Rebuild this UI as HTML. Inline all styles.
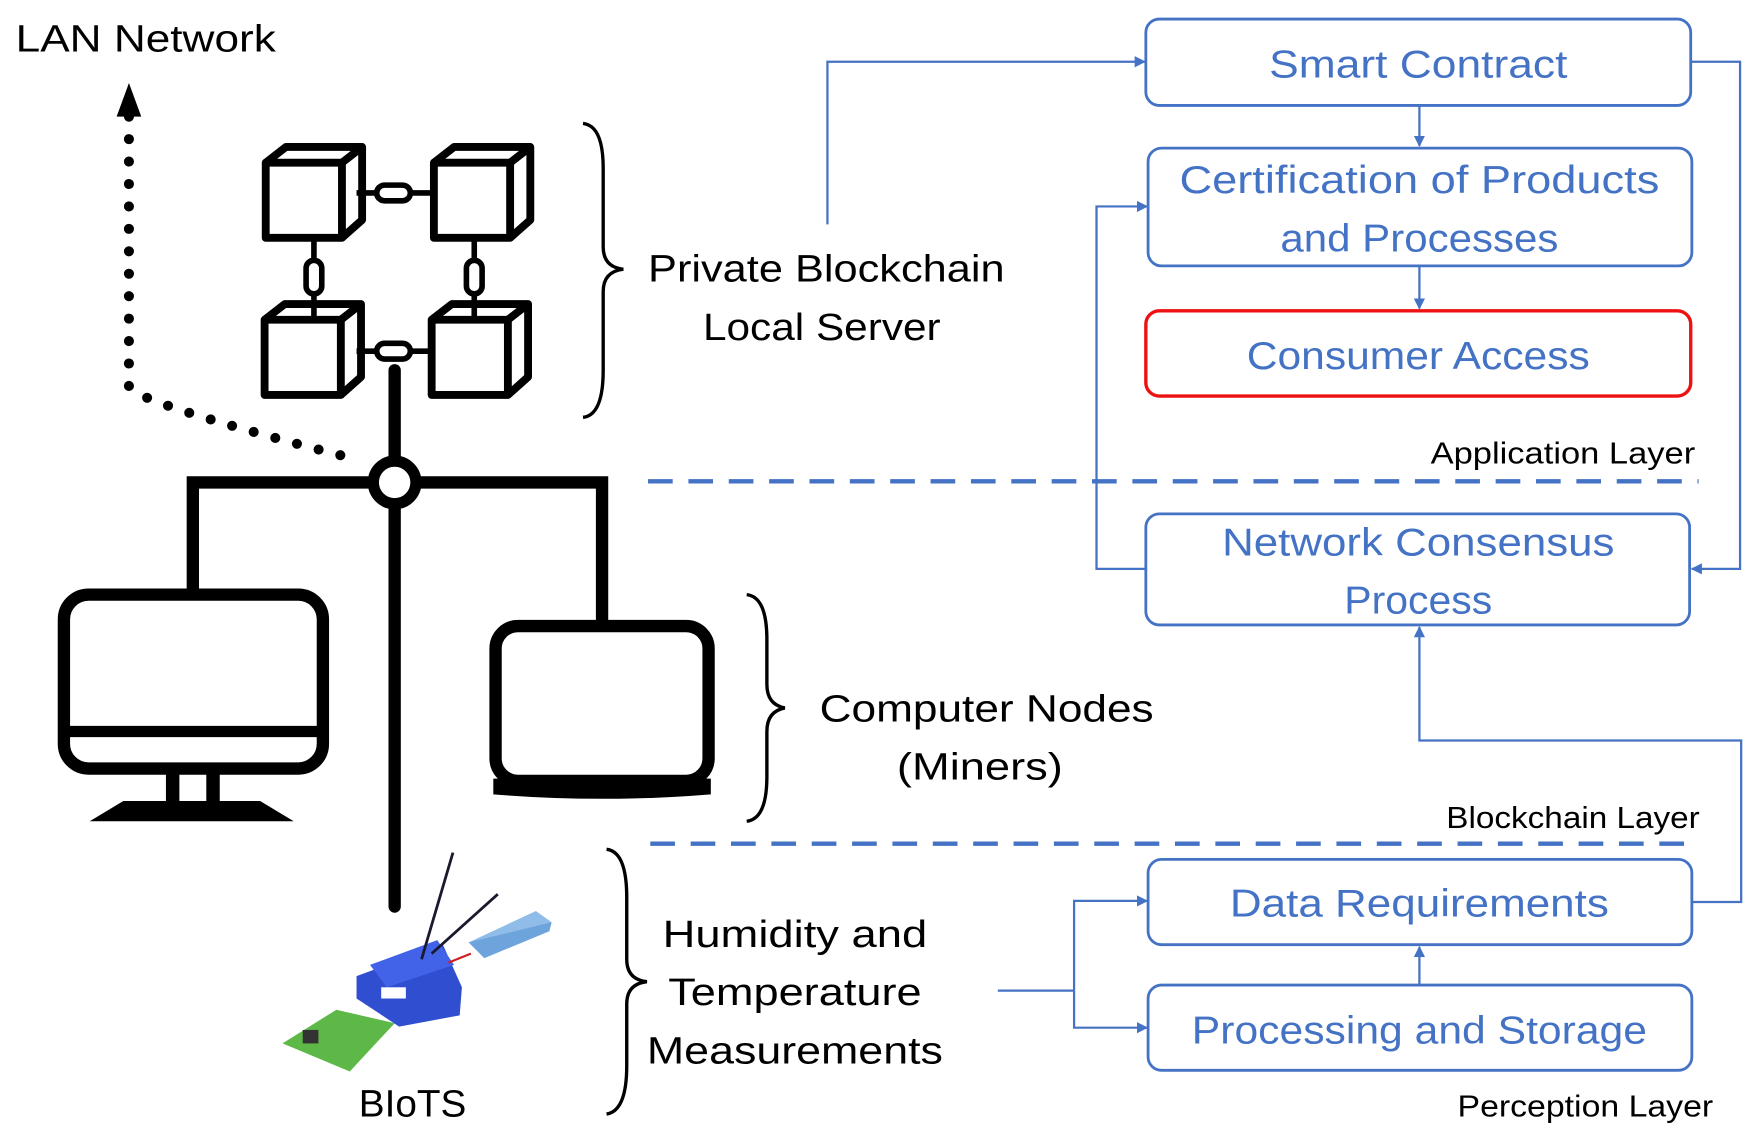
<!DOCTYPE html>
<html><head><meta charset="utf-8"><style>
html,body{margin:0;padding:0;background:#fff;}
svg{display:block;}
text{font-family:"Liberation Sans",sans-serif;}
</style></head><body>
<svg width="1758" height="1141" viewBox="0 0 1568 1017" preserveAspectRatio="none" xmlns="http://www.w3.org/2000/svg">
<defs>
<marker id="ab" markerWidth="10" markerHeight="10" refX="9" refY="5" orient="auto" markerUnits="userSpaceOnUse"><path d="M0,0 L10,5 L0,10 z" fill="#4472C4"/></marker>
</defs>
<rect width="1568" height="1017" fill="#fff"/>
<text x="14" y="46" font-size="34" textLength="232" lengthAdjust="spacingAndGlyphs">LAN Network</text>
<path d="M115,104 L115,345 Q125,360 320,410" fill="none" stroke="#000" stroke-width="9" stroke-linecap="round" stroke-dasharray="0 20"/>
<path d="M104,104 L115,74 L126,104 z" fill="#000"/>
<g fill="none" stroke="#000" stroke-width="7" stroke-linejoin="round">
<g id="cube"><rect x="237" y="145" width="68" height="67"/><path d="M237,145 L255,131 L323,131 L305,145 M323,131 L323,196 L305,212"/></g>
<use href="#cube" x="150" y="0"/>
<use href="#cube" x="-1" y="140"/>
<use href="#cube" x="148" y="140"/>
<g stroke-width="5">
<line x1="318" y1="172" x2="387" y2="172"/>
<rect x="336" y="165" width="30" height="14" rx="7" fill="#fff"/>
<line x1="318" y1="313" x2="386" y2="313"/>
<rect x="336" y="306" width="30" height="14" rx="7" fill="#fff"/>
<line x1="280" y1="212" x2="280" y2="283"/>
<rect x="273" y="232" width="14" height="30" rx="7" fill="#fff"/>
<line x1="423" y1="212" x2="423" y2="283"/>
<rect x="416" y="232" width="14" height="30" rx="7" fill="#fff"/>
</g>
</g>
<g stroke="#000" stroke-width="11" fill="none" stroke-linecap="round">
<line x1="352" y1="330" x2="352" y2="808"/>
<polyline points="172,530 172,430 537,430 537,558" stroke-linecap="butt"/>
</g>
<circle cx="352" cy="430" r="19" fill="#fff" stroke="#000" stroke-width="10"/>
<rect x="57" y="530" width="231" height="155" rx="22" fill="none" stroke="#000" stroke-width="11"/>
<line x1="57" y1="652" x2="288" y2="652" stroke="#000" stroke-width="10"/>
<rect x="148" y="685" width="12" height="32" fill="#000"/><rect x="184" y="685" width="12" height="32" fill="#000"/>
<path d="M110,714 L232,714 L262,732 L80,732 z" fill="#000"/>
<rect x="442" y="558" width="190" height="138" rx="20" fill="none" stroke="#000" stroke-width="11"/>
<path d="M440,694 L634,694 L634,708 Q537,716 440,708 z" fill="#000"/>
<g fill="none" stroke="#000" stroke-width="3">
<path d="M520,110 Q538,112 538,150 L538,220 Q538,238 556,240 Q538,242 538,260 L538,330 Q538,370 520,372"/>
<path d="M666,530 Q684,532 684,570 L684,610 Q684,628 700,631 Q684,634 684,652 L684,692 Q684,730 666,732"/>
<path d="M541,757 Q559,759 559,800 L559,855 Q559,873 577,875 Q559,877 559,895 L559,950 Q559,990 541,993"/>
</g>
<g font-size="34" text-anchor="middle" fill="#000">
<text x="737" y="251" textLength="318" lengthAdjust="spacingAndGlyphs">Private Blockchain</text>
<text x="733" y="303" textLength="212" lengthAdjust="spacingAndGlyphs">Local Server</text>
<text x="880" y="643" textLength="298" lengthAdjust="spacingAndGlyphs">Computer Nodes</text>
<text x="874" y="695" textLength="148" lengthAdjust="spacingAndGlyphs">(Miners)</text>
<text x="709" y="844" textLength="236" lengthAdjust="spacingAndGlyphs">Humidity and</text>
<text x="709" y="896" textLength="226" lengthAdjust="spacingAndGlyphs">Temperature</text>
<text x="709" y="948" textLength="264" lengthAdjust="spacingAndGlyphs">Measurements</text>
<text x="368" y="995" textLength="96" lengthAdjust="spacingAndGlyphs">BIoTS</text>
</g>
<g>
<path d="M252,930 L300,900 L352,912 L312,955 z" fill="#5db847"/>
<rect x="270" y="918" width="14" height="12" fill="#333"/>
<path d="M318,870 L395,842 L412,880 L410,905 L356,915 L318,890 z" fill="#2f4fd0"/>
<path d="M330,860 L390,838 L405,860 L345,880 z" fill="#4263e8"/>
<rect x="340" y="880" width="22" height="10" fill="#fff"/>
<path d="M418,840 L478,812 L492,822 L432,854 z" fill="#8fbce8"/>
<path d="M418,840 L432,854 L490,830 L492,822 z" fill="#6ea4dc"/>
<g stroke="#1a1a2e" stroke-width="2.5"><line x1="376" y1="855" x2="404" y2="760"/><line x1="385" y1="850" x2="444" y2="797"/></g>
<line x1="400" y1="858" x2="420" y2="850" stroke="#d02020" stroke-width="2"/>
</g>
<g stroke="#4472C4" stroke-width="4" stroke-dasharray="22 14">
<line x1="578" y1="429" x2="1515" y2="429"/>
<line x1="580" y1="752" x2="1515" y2="752"/>
</g>
<g font-size="27" text-anchor="end" fill="#000">
<text x="1512" y="413" textLength="236" lengthAdjust="spacingAndGlyphs">Application Layer</text>
<text x="1516" y="738" textLength="226" lengthAdjust="spacingAndGlyphs">Blockchain Layer</text>
<text x="1528" y="995" textLength="228" lengthAdjust="spacingAndGlyphs">Perception Layer</text>
</g>
<g fill="#fff" stroke="#4472C4" stroke-width="2.5">
<rect x="1022" y="17" width="486" height="77" rx="12"/>
<rect x="1024" y="132" width="485" height="105" rx="12"/>
<rect x="1022" y="458" width="485" height="99" rx="12"/>
<rect x="1024" y="766" width="485" height="76" rx="12"/>
<rect x="1024" y="878" width="485" height="76" rx="12"/>
</g>
<rect x="1022" y="277" width="486" height="76" rx="12" fill="#fff" stroke="#ee1111" stroke-width="3"/>
<g font-size="35" text-anchor="middle" fill="#4472C4">
<text x="1265" y="69" textLength="266" lengthAdjust="spacingAndGlyphs">Smart Contract</text>
<text x="1266" y="172" textLength="428" lengthAdjust="spacingAndGlyphs">Certification of Products</text>
<text x="1266" y="224" textLength="248" lengthAdjust="spacingAndGlyphs">and Processes</text>
<text x="1265" y="329" textLength="306" lengthAdjust="spacingAndGlyphs">Consumer Access</text>
<text x="1265" y="495" textLength="350" lengthAdjust="spacingAndGlyphs">Network Consensus</text>
<text x="1265" y="547" textLength="132" lengthAdjust="spacingAndGlyphs">Process</text>
<text x="1266" y="817" textLength="338" lengthAdjust="spacingAndGlyphs">Data Requirements</text>
<text x="1266" y="930" textLength="406" lengthAdjust="spacingAndGlyphs">Processing and Storage</text>
</g>
<g fill="none" stroke="#4472C4" stroke-width="2" marker-end="url(#ab)">
<polyline points="738,200 738,55 1021,55"/>
<polyline points="1266,94 1266,130"/>
<polyline points="1266,237 1266,275"/>
<polyline points="1508,55 1552,55 1552,507 1509,507"/>
<polyline points="1022,507 978,507 978,184 1023,184"/>
<polyline points="1509,804 1553,804 1553,660 1266,660 1266,559"/>
<polyline points="1266,878 1266,844"/>
<polyline points="958,883 958,803 1023,803"/>
<polyline points="958,883 958,916 1023,916"/>
</g>
<line x1="890" y1="883" x2="958" y2="883" stroke="#4472C4" stroke-width="2"/>
</svg>
</body></html>
